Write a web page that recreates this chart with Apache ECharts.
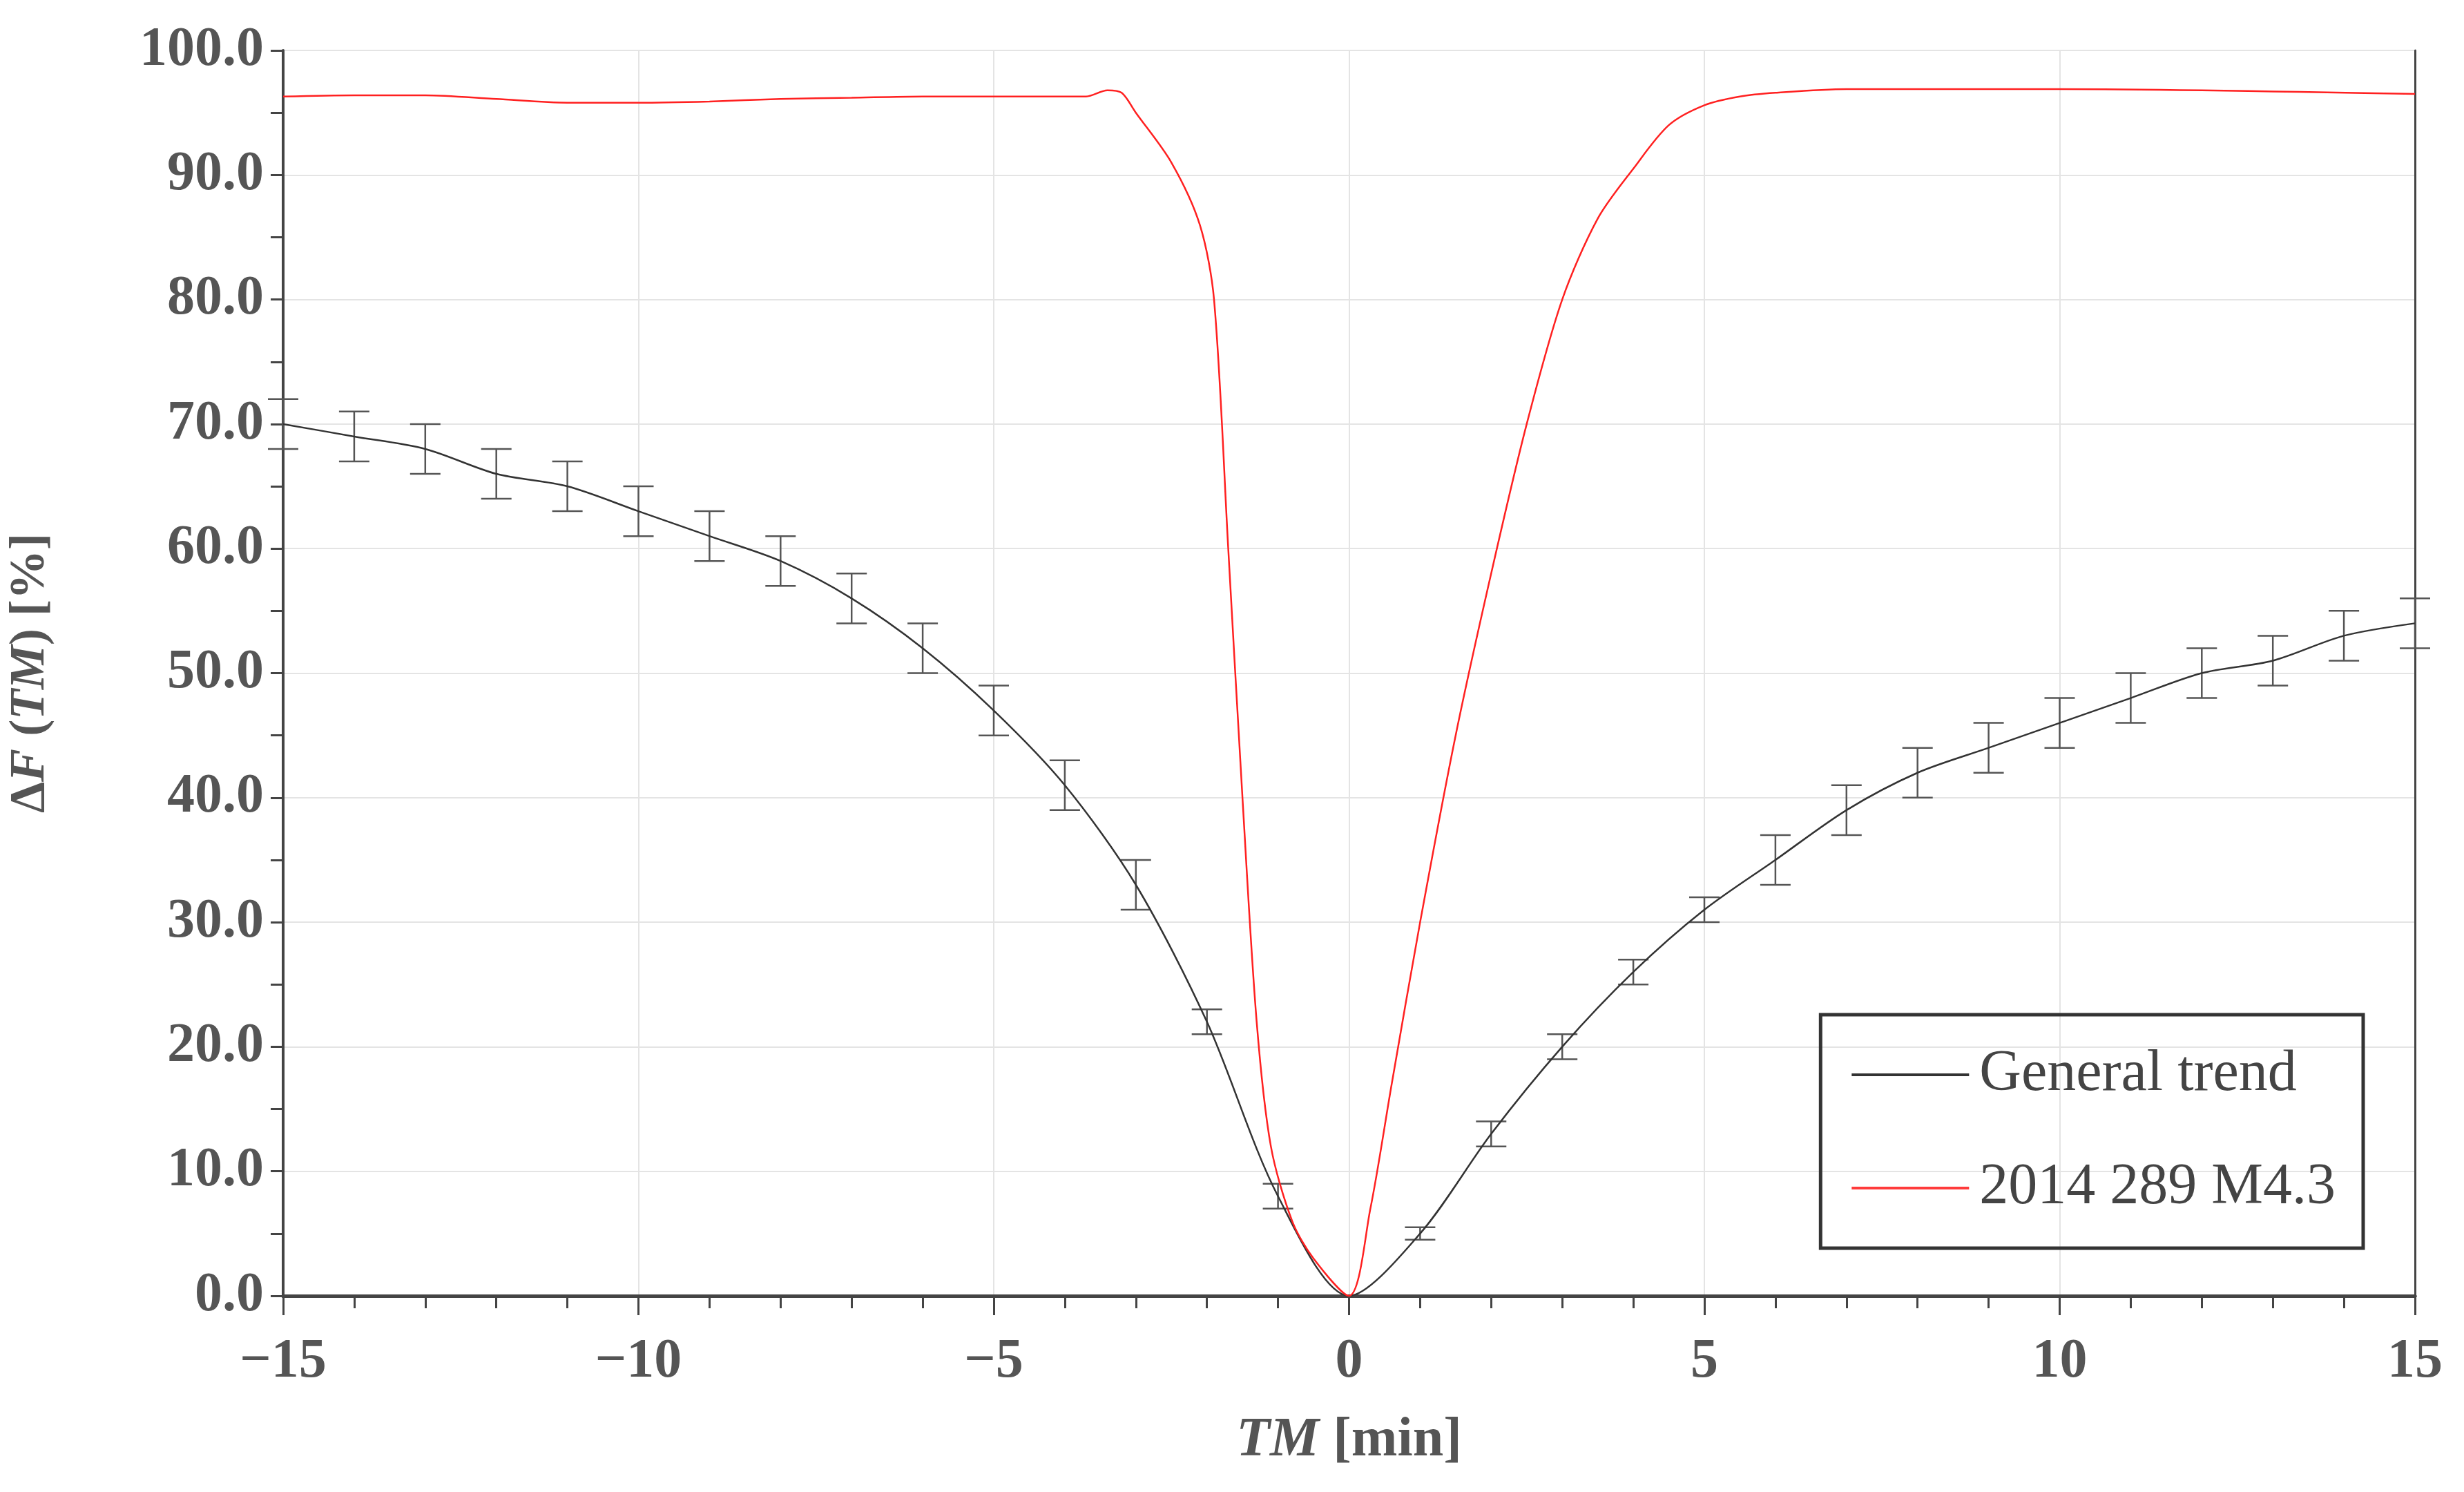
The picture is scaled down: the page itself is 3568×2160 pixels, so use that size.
<!DOCTYPE html>
<html>
<head>
<meta charset="utf-8">
<script src="https://cdn.jsdelivr.net/npm/echarts@6/dist/echarts.min.js"></script>
<style>html,body{margin:0;padding:0;background:#fff}#chart{width:3568px;height:2160px}</style>
</head>
<body>
<div id="chart"></div>
<script>
// general trend, sampled every minute
var trendMin = [-15,-14,-13,-12,-11,-10,-9,-8,-7,-6,-5,-4,-3,-2,-1,0,1,2,3,4,5,6,7,8,9,10,11,12,13,14,15];
var trendVal = [70,69,68,66,65,63,61,59,56,52,47,41,33,22,8,0,5,13,20,26,31,35,39,42,44,46,48,50,51,53,54];
var trendErr = [2,2,2,2,2,2,2,2,2,2,2,2,2,1,1,0,0.5,1,1,1,1,2,2,2,2,2,2,2,2,2,2];
// 2014 289 M4.3 event
var eventMin = [-15,-14,-13,-12,-11,-10,-9,-8,-7,-6,-5,-4,-3.7,-3.4,-3.2,-3,-2.5,-2.1,-1.9,-1.7,-1.5,-1.3,-1.1,-0.8,-0.5,0,0.3,0.6,1,1.5,2,2.5,3,3.5,4,4.5,5,5.5,6,7,10,15];
var eventVal = [96.3,96.4,96.4,96.1,95.8,95.8,95.9,96.1,96.2,96.3,96.3,96.3,96.3,96.8,96.6,95,91,86,80,60,40,22,12,6,3,0,7,17,30,45,58,70,80,86.5,90.5,94,95.6,96.3,96.6,96.9,96.9,96.5];

var trendData = trendMin.map(function (m, i) { return [m, trendVal[i]]; });
var eventData = eventMin.map(function (m, i) { return [m, eventVal[i]]; });
var errData = trendMin.map(function (m, i) { return [m, trendVal[i] - trendErr[i], trendVal[i] + trendErr[i]]; })
    .filter(function (d) { return d[2] > d[1]; });

var labelFont = {fontFamily: 'Liberation Serif', fontWeight: 'bold', fontSize: 80, color: '#555'};

option = {
    animation: false,
    grid: {left: 410, right: 71, top: 73, bottom: 284},
    legend: {
        right: 146, top: 1469,
        orient: 'vertical',
        data: ['General trend', '2014 289 M4.3'],
        itemWidth: 170, itemHeight: 4, itemGap: 80,
        icon: 'rect',
        padding: [45, 40, 45, 45],
        borderColor: '#333', borderWidth: 5,
        textStyle: {fontFamily: 'Liberation Serif', fontSize: 84, color: '#444', padding: [0, 0, 0, 10]}
    },
    xAxis: [{
        type: 'value', min: -15, max: 15, interval: 5,
        name: '{i|TM} [min]', nameLocation: 'middle', nameGap: 170,
        nameTextStyle: {fontFamily: 'Liberation Serif', fontWeight: 'bold', fontSize: 80, color: '#555',
            rich: {i: {fontFamily: 'Liberation Serif', fontWeight: 'bold', fontStyle: 'italic', fontSize: 80, color: '#555'}}},
        axisLine: {onZero: false, lineStyle: {color: '#444', width: 5}},
        axisTick: {length: 28, lineStyle: {color: '#444', width: 3}},
        minorTick: {show: true, splitNumber: 5, length: 18, lineStyle: {color: '#444', width: 3}},
        axisLabel: Object.assign({margin: 56, formatter: function (v) { return v < 0 ? '\u2212' + (-v) : v; }}, labelFont),
        splitLine: {lineStyle: {color: '#e4e4e4', width: 2}}
    }, {
        type: 'value', min: -15, max: 15, position: 'top',
        axisLine: {lineStyle: {color: '#444', width: 5}},
        axisTick: {show: false}, axisLabel: {show: false}, splitLine: {show: false}
    }],
    yAxis: [{
        type: 'value', min: 0, max: 100, interval: 10,
        name: '\u0394{i|F} ({i|TM}) [%]', nameLocation: 'middle', nameGap: 330,
        nameTextStyle: {fontFamily: 'Liberation Serif', fontWeight: 'bold', fontSize: 72, color: '#555',
            rich: {i: {fontFamily: 'Liberation Serif', fontWeight: 'bold', fontStyle: 'italic', fontSize: 72, color: '#555'}}},
        axisLine: {show: true, onZero: false, lineStyle: {color: '#444', width: 4}},
        axisTick: {show: true, length: 18, lineStyle: {color: '#444', width: 3}},
        minorTick: {show: true, splitNumber: 2, length: 18, lineStyle: {color: '#444', width: 3}},
        axisLabel: Object.assign({margin: 28, formatter: function (v) { return v.toFixed(1); }}, labelFont),
        splitLine: {lineStyle: {color: '#e4e4e4', width: 2}}
    }, {
        type: 'value', min: 0, max: 100, position: 'right',
        axisLine: {show: true, onZero: false, lineStyle: {color: '#444', width: 3}},
        axisTick: {show: false}, axisLabel: {show: false}, splitLine: {show: false}
    }],
    series: [
        {
            name: 'General trend', type: 'line', data: trendData, smooth: 0.3,
            showSymbol: false, color: '#333', lineStyle: {color: '#333', width: 2.5}, z: 3
        },
        {
            name: '2014 289 M4.3', type: 'line', data: eventData, smooth: 0.3,
            showSymbol: false, color: '#ff3b3b', lineStyle: {color: '#ff2020', width: 2.5}, z: 4
        },
        {
            type: 'custom', data: errData, z: 2,
            renderItem: function (params, api) {
                var lo = api.coord([api.value(0), api.value(1)]);
                var hi = api.coord([api.value(0), api.value(2)]);
                var w = 22;
                var st = {stroke: '#555', lineWidth: 2.5};
                return {type: 'group', children: [
                    {type: 'line', shape: {x1: lo[0], y1: lo[1], x2: hi[0], y2: hi[1]}, style: st},
                    {type: 'line', shape: {x1: lo[0] - w, y1: lo[1], x2: lo[0] + w, y2: lo[1]}, style: st},
                    {type: 'line', shape: {x1: hi[0] - w, y1: hi[1], x2: hi[0] + w, y2: hi[1]}, style: st}
                ]};
            }
        }
    ]
};

var myChart = echarts.init(document.getElementById('chart'));
myChart.setOption(option);
</script>
</body>
</html>
